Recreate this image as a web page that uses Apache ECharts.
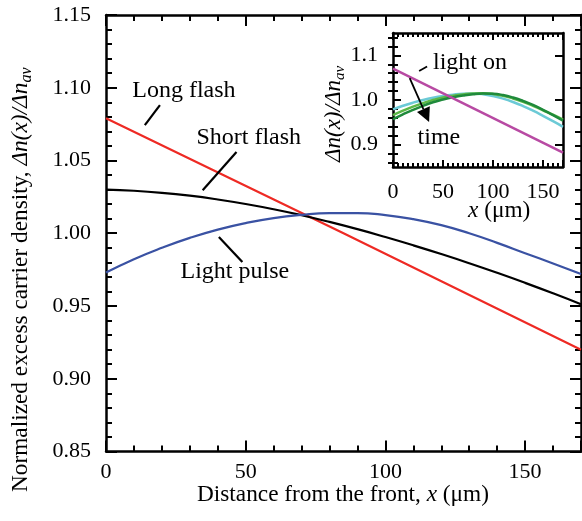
<!DOCTYPE html>
<html>
<head>
<meta charset="utf-8">
<script src="https://cdn.jsdelivr.net/npm/echarts@6/dist/echarts.min.js"></script>
<style>
html,body{margin:0;padding:0;background:#fff;}
#c{width:582px;height:521px;}
</style>
</head>
<body>
<div id="c"></div>
<script>
// ---- Main chart data ----
const xValues = [0,10,20,30,40,50,60,70,80,90,100,110,120,130,140,150,160,170];
const shortFlash = [1.0300,1.0292,1.0278,1.0258,1.0232,1.0201,1.0165,1.0124,1.0078,1.0028,0.9974,0.9917,0.9857,0.9794,0.9728,0.9659,0.9587,0.9512];
const lightPulse = [0.9730,0.9822,0.9900,0.9968,1.0025,1.0070,1.0104,1.0126,1.0138,1.0139,1.0125,1.0097,1.0056,1.0000,0.9934,0.9863,0.9792,0.9720];
const longFlashX = [0,85,170];
const longFlash = [1.079,1.000,0.920];

// ---- Inset data ----
const insetLightOnX = [0,170];
const insetLightOn = [1.070,0.882];
const insetCyan = [0.979,0.987,0.994,1.000,1.005,1.009,1.012,1.014,1.0145,1.013,1.009,1.003,0.9955,0.9865,0.976,0.9645,0.9525,0.940];
const insetLightGreen = [0.966,0.976,0.985,0.993,1.000,1.0055,1.0095,1.0125,1.0145,1.015,1.0135,1.0095,1.0035,0.996,0.987,0.977,0.967,0.956];
const insetDarkGreen = [0.957,0.968,0.978,0.987,0.995,1.001,1.006,1.010,1.013,1.0145,1.014,1.011,1.0055,0.998,0.989,0.978,0.966,0.954];

// ---- Tick labels ----
const insetYMajor = [0.9,1.0,1.1];
const insetYMinor = [0.86,0.88,0.92,0.94,0.96,0.98,1.02,1.04,1.06,1.08,1.12,1.14];

const FONT = '"Liberation Serif", "Times New Roman", serif';
const pair = (xs, ys) => xs.map((x,i)=>[x, ys[i]]);

const chart = echarts.init(document.getElementById('c'), null, {renderer:'canvas'});

const axLine = {show:true, onZero:false, lineStyle:{color:'#000', width:2.5}};
function xAx(grid, pos, labels, minorSplit, fontSize){
  return {
    type:'value', gridIndex:grid, position:pos, min:0, max:170, interval:50,
    axisLine:axLine,
    axisTick:{show:true, inside:true, length: grid===0?11:7, lineStyle:{color:'#000', width:2}},
    minorTick:{show:true, splitNumber:minorSplit, length: grid===0?6:4, lineStyle:{color:'#000', width:2}},
    splitLine:{show:false},
    axisLabel:{show:labels, showMaxLabel:false, color:'#000', fontFamily:FONT, fontSize:fontSize, margin: grid===0?10:14}
  };
}

const option = {
  animation:false,
  backgroundColor:'#fff',
  grid:[
    {left:106, top:15, right:1, bottom:69.5},
    {left:393, top:33, width:170, height:134}
  ],
  xAxis:[
    xAx(0,'bottom',true,5,22),
    xAx(0,'top',false,5,22),
    xAx(1,'bottom',true,10,22),
    xAx(1,'top',false,10,22)
  ],
  yAxis:[
    {type:'value', gridIndex:0, position:'left', min:0.85, max:1.15, interval:0.05,
     axisLine:axLine,
     axisTick:{show:true, inside:true, length:11, lineStyle:{color:'#000', width:2}},
     minorTick:{show:true, splitNumber:5, length:6, lineStyle:{color:'#000', width:2}},
     splitLine:{show:false},
     axisLabel:{color:'#000', fontFamily:FONT, fontSize:22, margin:15, formatter:v=>v.toFixed(2)}},
    {type:'value', gridIndex:0, position:'right', min:0.85, max:1.15, interval:0.05,
     axisLine:axLine,
     axisTick:{show:true, inside:true, length:11, lineStyle:{color:'#000', width:2}},
     minorTick:{show:true, splitNumber:5, length:6, lineStyle:{color:'#000', width:2}},
     splitLine:{show:false}, axisLabel:{show:false}},
    {type:'value', gridIndex:1, position:'left', min:0.85, max:1.15,
     axisLine:axLine,
     axisTick:{show:true, inside:true, length:8, customValues:insetYMajor, lineStyle:{color:'#000', width:2}},
     splitLine:{show:false},
     axisLabel:{color:'#000', fontFamily:FONT, fontSize:22, margin:15, customValues:insetYMajor, formatter:v=>v.toFixed(1)}},
    {type:'value', gridIndex:1, position:'left', min:0.85, max:1.15,
     axisLine:{show:false},
     axisTick:{show:true, inside:true, length:5, customValues:insetYMinor, lineStyle:{color:'#000', width:2}},
     splitLine:{show:false}, axisLabel:{show:false}},
    {type:'value', gridIndex:1, position:'right', min:0.85, max:1.15,
     axisLine:axLine,
     axisTick:{show:true, inside:true, length:8, customValues:insetYMajor, lineStyle:{color:'#000', width:2}},
     splitLine:{show:false}, axisLabel:{show:false}},
    {type:'value', gridIndex:1, position:'right', min:0.85, max:1.15,
     axisLine:{show:false},
     axisTick:{show:true, inside:true, length:5, customValues:insetYMinor, lineStyle:{color:'#000', width:2}},
     splitLine:{show:false}, axisLabel:{show:false}}
  ],
  series:[
    {type:'line', xAxisIndex:0, yAxisIndex:0, data:pair(longFlashX,longFlash), showSymbol:false, lineStyle:{color:'#ee2a24', width:2.2}},
    {type:'line', xAxisIndex:0, yAxisIndex:0, data:pair(xValues,shortFlash), smooth:0.5, showSymbol:false, lineStyle:{color:'#000', width:2.2}},
    {type:'line', xAxisIndex:0, yAxisIndex:0, data:pair(xValues,lightPulse), smooth:0.5, showSymbol:false, lineStyle:{color:'#3a52a3', width:2.2}},
    {type:'line', xAxisIndex:2, yAxisIndex:2, data:pair(xValues,insetCyan), smooth:0.5, showSymbol:false, lineStyle:{color:'#6ccad6', width:2.5}},
    {type:'line', xAxisIndex:2, yAxisIndex:2, data:pair(xValues,insetLightGreen), smooth:0.5, showSymbol:false, lineStyle:{color:'#5cb847', width:2.5}},
    {type:'line', xAxisIndex:2, yAxisIndex:2, data:pair(xValues,insetDarkGreen), smooth:0.5, showSymbol:false, lineStyle:{color:'#1f8a3b', width:2.5}},
    {type:'line', xAxisIndex:2, yAxisIndex:2, data:pair(insetLightOnX,insetLightOn), showSymbol:false, lineStyle:{color:'#b84aa3', width:2.5}}
  ]
};
chart.setOption(option);

// ---- annotations, positioned in data coordinates ----
const mainAnn = {
  texts:[
    {t:'Long flash', x:27.9, y:1.0979},
    {t:'Short flash', x:51.1, y:1.0654},
    {t:'Light pulse', x:46.1, y:0.9734}
  ],
  leaders:[
    [[13.9,1.0743],[19.3,1.0881]],
    [[34.6,1.0296],[46.7,1.0559]],
    [[40.4,0.9975],[48.8,0.9803]]
  ]
};
const insetAnn = {
  texts:[
    {t:'light on', x:77.0, y:1.083},
    {t:'time', x:45.9, y:0.915}
  ],
  leaders:[
    [[26.1,1.065],[34.1,1.075]]
  ],
  arrow:[[16.7,1.049],[36.1,0.951]]
};

const P0 = p => chart.convertToPixel({xAxisIndex:0, yAxisIndex:0}, p);
const P1 = p => chart.convertToPixel({xAxisIndex:2, yAxisIndex:2}, p);
const g = [];
function addText(p, t){
  g.push({type:'text', x:p[0], y:p[1], z:100, style:{text:t, fill:'#000', font:'24px ' + FONT, align:'center', verticalAlign:'middle'}});
}
function addLine(a,b,w){
  g.push({type:'line', z:100, shape:{x1:a[0],y1:a[1],x2:b[0],y2:b[1]}, style:{stroke:'#000', lineWidth:w||2}});
}
mainAnn.texts.forEach(o=>addText(P0([o.x,o.y]), o.t));
mainAnn.leaders.forEach(l=>addLine(P0(l[0]), P0(l[1]), 2.2));
insetAnn.texts.forEach(o=>addText(P1([o.x,o.y]), o.t));
insetAnn.leaders.forEach(l=>addLine(P1(l[0]), P1(l[1]), 1.8));
(function(){
  const a = P1(insetAnn.arrow[0]), b = P1(insetAnn.arrow[1]);
  const dx=b[0]-a[0], dy=b[1]-a[1], L=Math.hypot(dx,dy), ux=dx/L, uy=dy/L;
  const hl=14, hw=7;
  const bx=b[0]-ux*hl, by=b[1]-uy*hl;
  addLine(a,[bx,by],1.8);
  g.push({type:'polygon', z:100, shape:{points:[[b[0],b[1]],[bx-uy*hw,by+ux*hw],[bx+uy*hw,by-ux*hw]]}, style:{fill:'#000'}});
})();

// ---- axis titles ----
const TS = 23.3;
g.push({type:'text', x:197, y:495, z:100,
  style:{text:'{n|Distance from the front, }{i|x}{n| (μm)}', align:'left', verticalAlign:'middle',
    rich:{
      n:{fontFamily:FONT, fontSize:TS, fill:'#000'},
      i:{fontFamily:FONT, fontSize:TS, fontStyle:'italic', fill:'#000'}
    }}});
g.push({type:'text', x:21, y:492, rotation:Math.PI/2, z:100,
  style:{text:'{n|Normalized excess carrier density, }{i|Δn(x)/Δn}{s|av}', align:'left', verticalAlign:'middle',
    rich:{
      n:{fontFamily:FONT, fontSize:TS, fill:'#000', lineHeight:28, verticalAlign:'middle'},
      i:{fontFamily:FONT, fontSize:TS, fontStyle:'italic', fill:'#000', lineHeight:28, verticalAlign:'middle'},
      s:{fontFamily:FONT, fontSize:16, fontStyle:'italic', fill:'#000', lineHeight:16, verticalAlign:'bottom'}
    }}});
g.push({type:'text', x:468, y:210.5, z:100,
  style:{text:'{i|x}{n| (μm)}', align:'left', verticalAlign:'middle',
    rich:{
      n:{fontFamily:FONT, fontSize:TS, fill:'#000'},
      i:{fontFamily:FONT, fontSize:TS, fontStyle:'italic', fill:'#000'}
    }}});
g.push({type:'text', x:334, y:162, rotation:Math.PI/2, z:100,
  style:{text:'{i|Δn(x)/Δn}{s|av}', align:'left', verticalAlign:'middle',
    rich:{
      i:{fontFamily:FONT, fontSize:23, fontStyle:'italic', fill:'#000', lineHeight:28, verticalAlign:'middle'},
      s:{fontFamily:FONT, fontSize:15, fontStyle:'italic', fill:'#000', lineHeight:15, verticalAlign:'bottom'}
    }}});
chart.setOption({graphic:g});
</script>
</body>
</html>
